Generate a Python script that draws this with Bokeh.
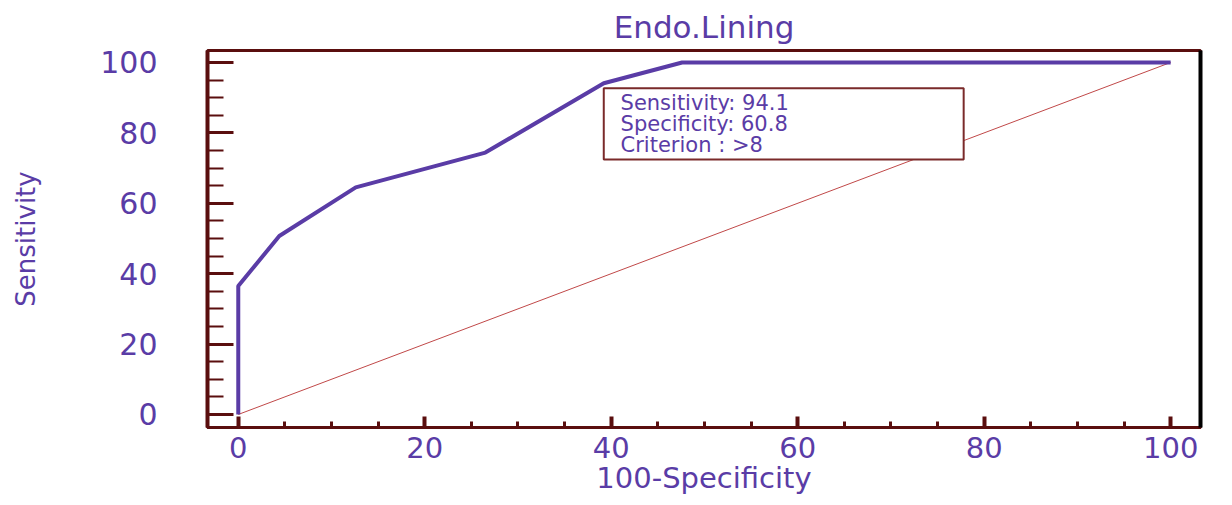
from bokeh.plotting import figure
from bokeh.models import (Range1d, FixedTicker, LinearAxis, BoxAnnotation, Label)
from bokeh.embed import file_html
from bokeh.resources import INLINE

# ---- data ----
title_text = "Endo.Lining"
x_label = "100-Specificity"
y_label = "Sensitivity"
roc_x = [0, 0, 4.4, 12.6, 26.5, 39.2, 47.6, 100]
roc_y = [0, 36.5, 50.7, 64.5, 74.4, 94.1, 100, 100]
diag_x = [0, 100]
diag_y = [0, 100]
major_ticks = [0, 20, 40, 60, 80, 100]
minor_ticks = [5, 10, 15, 25, 30, 35, 45, 50, 55, 65, 70, 75, 85, 90, 95]
box_lines = ["Sensitivity: 94.1", "Specificity: 60.8", "Criterion : >8"]
box_line_y = [88.5, 82.5, 76.6]

PURPLE = "#5a3ca6"
MAROON = "#5a0e0e"
FONT = "DejaVu Sans"

p = figure(width=1224, height=497, output_backend="svg", toolbar_location=None,
           x_range=Range1d(-3.3, 103.2), y_range=Range1d(-3.7, 103.4),
           min_border_left=207, min_border_right=24, min_border_top=50,
           min_border_bottom=67, background_fill_color="white",
           border_fill_color="white")
p.grid.visible = False
p.outline_line_color = MAROON
p.outline_line_width = 3

p.title.text = title_text
p.title.align = "center"
p.title.text_font = FONT
p.title.text_font_size = "31px"
p.title.text_font_style = "normal"
p.title.text_color = PURPLE
p.title.standoff = 12

# x axis
xa = p.xaxis[0]
xa.ticker = FixedTicker(ticks=major_ticks, minor_ticks=minor_ticks)
xa.axis_line_color = MAROON
xa.axis_line_width = 3
xa.major_tick_line_color = MAROON
xa.major_tick_line_width = 4
xa.minor_tick_line_color = MAROON
xa.minor_tick_line_width = 3
xa.major_tick_in = 11
xa.major_tick_out = 0
xa.minor_tick_in = 6
xa.minor_tick_out = 0
xa.major_label_text_font = FONT
xa.major_label_text_font_size = "29px"
xa.major_label_text_color = PURPLE
xa.major_label_standoff = 9
xa.axis_label = x_label
xa.axis_label_text_font = FONT
xa.axis_label_text_font_size = "29px"
xa.axis_label_text_font_style = "normal"
xa.axis_label_text_color = PURPLE
xa.axis_label_standoff = 0

# y axis
ya = p.yaxis[0]
ya.ticker = FixedTicker(ticks=major_ticks, minor_ticks=minor_ticks)
ya.axis_line_color = MAROON
ya.axis_line_width = 4
ya.major_tick_line_color = MAROON
ya.major_tick_line_width = 3
ya.minor_tick_line_color = MAROON
ya.minor_tick_line_width = 2
ya.major_tick_in = 26
ya.major_tick_out = 0
ya.minor_tick_in = 16
ya.minor_tick_out = 0
ya.major_label_text_font = FONT
ya.major_label_text_font_size = "30px"
ya.major_label_text_color = PURPLE
ya.major_label_standoff = 50
ya.axis_label = y_label
ya.axis_label_text_font = FONT
ya.axis_label_text_font_size = "26px"
ya.axis_label_text_font_style = "normal"
ya.axis_label_text_color = PURPLE
ya.axis_label_standoff = 56

# right frame line (black, thick)
ra = LinearAxis(ticker=FixedTicker(ticks=[]), major_label_text_font_size="0px",
                axis_line_color="black", axis_line_width=4,
                major_tick_line_color=None, minor_tick_line_color=None)
p.add_layout(ra, "right")

# lines
p.line(diag_x, diag_y, line_color="#c04848", line_width=1)
p.line(roc_x, roc_y, line_color=PURPLE, line_width=4)

# criterion box
p.add_layout(BoxAnnotation(left=39.2, right=77.8, top=92.7, bottom=72.4,
                           fill_color="white", fill_alpha=1.0,
                           line_color="#7a2a2a", line_alpha=1.0, line_width=2))
for t, yy in zip(box_lines, box_line_y):
    p.add_layout(Label(x=41.0, y=yy, text=t, text_font=FONT,
                       text_font_size="21px", text_color=PURPLE,
                       text_baseline="middle", text_align="left"))

open("out.html", "w").write(file_html(p, INLINE))
